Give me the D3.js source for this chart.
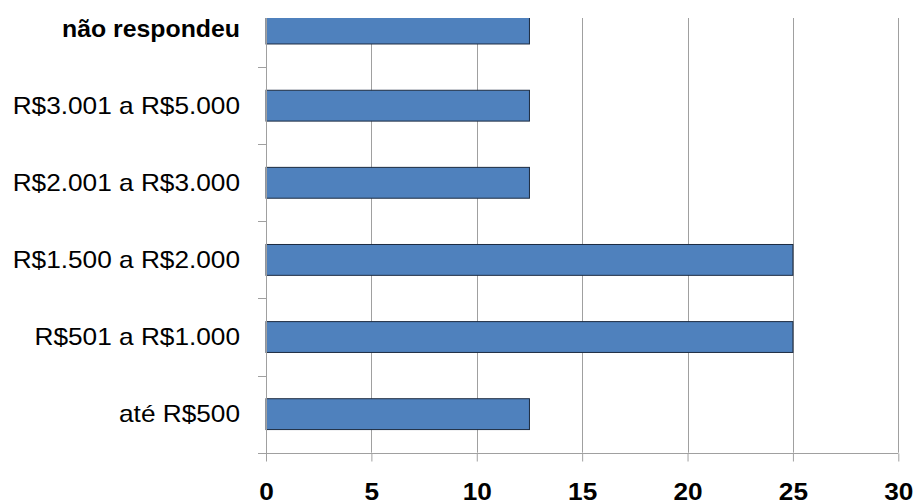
<!DOCTYPE html>
<html>
<head>
<meta charset="utf-8">
<script src="https://cdn.jsdelivr.net/npm/d3@7"></script>
<style>
  html, body { margin: 0; padding: 0; background: #fff; }
  svg { display: block; }
  text { font-family: "Liberation Sans", Arial, sans-serif; fill: #000; }
</style>
</head>
<body>
<svg id="chart" width="916" height="502"></svg>
<script>
// Data (top to bottom as displayed)
const categories = ["não respondeu", "R$3.001 a R$5.000", "R$2.001 a R$3.000", "R$1.500 a R$2.000", "R$501 a R$1.000", "até R$500"];
const values = [12.5, 12.5, 12.5, 25, 25, 12.5];
const xTicks = [0, 5, 10, 15, 20, 25, 30];

const svg = d3.select("#chart");
const left = 266, right = 898.3, axisY = 452.7, clipTop = 18;

const x = d3.scaleLinear().domain([0, 30]).range([left, right]);
const y = d3.scaleBand().domain(categories).range([-10, axisY]).paddingInner(0.6).paddingOuter(0.3);

svg.append("clipPath").attr("id", "plotclip")
  .append("rect").attr("x", 0).attr("y", clipTop).attr("width", 916).attr("height", axisY - clipTop + 1);

const plot = svg.append("g").attr("clip-path", "url(#plotclip)");

// gridlines
plot.selectAll("line.grid").data(xTicks.slice(1)).enter().append("line")
  .attr("x1", d => Math.round(x(d)) + 0.5).attr("x2", d => Math.round(x(d)) + 0.5)
  .attr("y1", clipTop).attr("y2", axisY)
  .attr("stroke", "#a0a0a0").attr("stroke-width", 1);

// bars
plot.selectAll("rect.bar").data(categories).enter().append("rect")
  .attr("x", x(0))
  .attr("y", d => y(d))
  .attr("width", (d, i) => x(values[i]) - x(0))
  .attr("height", y.bandwidth())
  .attr("fill", "#4f81bd")
  .attr("stroke", "#1c2b40").attr("stroke-width", 1);

// y axis line
svg.append("line").attr("x1", left + 0.5).attr("x2", left + 0.5)
  .attr("y1", clipTop).attr("y2", axisY + 7.5)
  .attr("stroke", "#a0a0a0").attr("stroke-width", 1);

// y category separator ticks
const step = y.step();
const sepYs = d3.range(1, categories.length + 1).map(k => -10 + k * step);
svg.selectAll("line.ytick").data(sepYs).enter().append("line")
  .attr("x1", left - 8).attr("x2", left)
  .attr("y1", d => Math.round(d) + 0.5).attr("y2", d => Math.round(d) + 0.5)
  .attr("stroke", "#a0a0a0").attr("stroke-width", 1);

// x axis
const xAxis = d3.axisBottom(x).tickValues(xTicks).tickSize(8).tickFormat(d3.format("d"));
const gx = svg.append("g").attr("transform", `translate(0,${Math.round(axisY) + 0.5})`).call(xAxis);
gx.select(".domain").remove();
gx.append("line").attr("x1", left - 8).attr("x2", right).attr("y1", 0).attr("y2", 0)
  .attr("stroke", "#a0a0a0").attr("stroke-width", 1);
gx.selectAll(".tick line").attr("stroke", "#a0a0a0");
gx.selectAll(".tick text")
  .attr("y", 0).attr("dy", 0)
  .attr("transform", "translate(0,46) scale(1.14,1)")
  .style("font-family", '"Liberation Sans", Arial, sans-serif')
  .style("font-size", "23px").style("font-weight", "bold").attr("fill", "#000");

// category labels
svg.selectAll("text.cat").data(categories).enter().append("text")
  .attr("class", "cat")
  .attr("text-anchor", "end")
  .attr("dy", "0.35em")
  .attr("transform", d => `translate(240,${y(d) + y.bandwidth() / 2}) scale(${d === categories[0] ? 1.08 : 1.14},1)`)
  .style("font-size", "23px")
  .style("font-weight", (d, i) => i === 0 ? "bold" : "normal")
  .text(d => d);
</script>
</body>
</html>
